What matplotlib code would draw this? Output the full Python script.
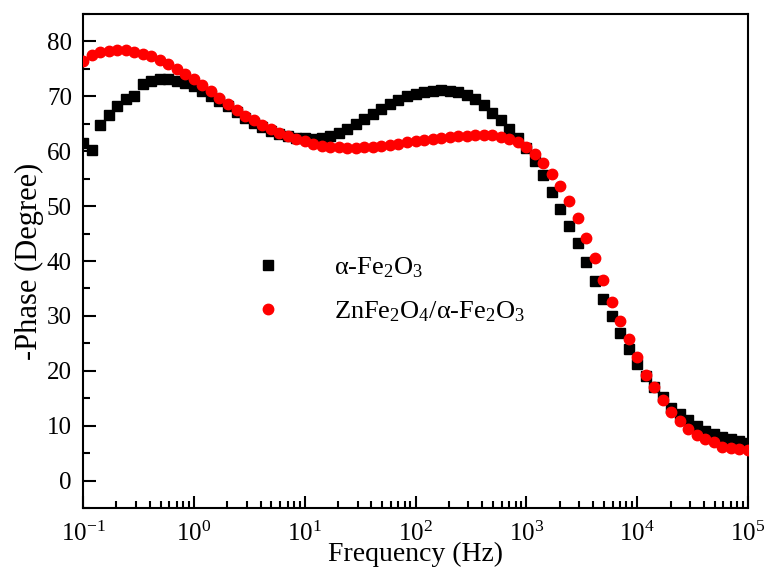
import numpy as np
import matplotlib
matplotlib.use("Agg")
from matplotlib import pyplot as plt
from matplotlib.ticker import LogLocator, MultipleLocator, NullFormatter

plt.rcParams['font.family'] = ['Liberation Serif', 'DejaVu Serif']
plt.rcParams['mathtext.fontset'] = 'custom'
plt.rcParams['mathtext.rm'] = 'Liberation Serif'
plt.rcParams['mathtext.it'] = 'Liberation Serif:italic'

# barrido de frecuencia: 13 puntos por decada, de 0.1 Hz a 100 kHz
freq = np.logspace(-1, 5, 79)

# -Phase (grados)
fase_fe2o3 = [61.5, 60.3, 64.7, 66.6, 68.3, 69.6, 70.1, 72.3, 72.8, 73.1,
              73.1, 72.8, 72.4, 71.8, 70.9, 70.0, 69.1, 68.2, 67.2, 66.1,
              65.2, 64.4, 63.7, 63.2, 62.8, 62.5, 62.4, 62.3, 62.4, 62.8,
              63.4, 64.1, 65.0, 65.9, 66.8, 67.7, 68.6, 69.4, 70.0, 70.5,
              70.8, 71.0, 71.1, 71.0, 70.7, 70.2, 69.5, 68.4, 67.0, 65.6,
              64.0, 62.5, 60.6, 58.3, 55.7, 52.5, 49.5, 46.4, 43.2, 39.8,
              36.3, 33.0, 29.9, 26.9, 24.0, 21.3, 19.0, 17.1, 15.2, 13.3,
              12.1, 11.0, 10.0, 9.1, 8.5, 8.0, 7.6, 7.2, 6.9]

fase_znfe = [76.5, 77.6, 78.0, 78.2, 78.4, 78.4, 78.1, 77.8, 77.3, 76.6,
             75.8, 75.0, 74.1, 73.1, 72.0, 70.9, 69.7, 68.6, 67.5, 66.5,
             65.6, 64.8, 64.0, 63.3, 62.7, 62.2, 61.8, 61.4, 61.0, 60.8,
             60.7, 60.6, 60.6, 60.7, 60.8, 61.0, 61.2, 61.4, 61.6, 61.9,
             62.1, 62.3, 62.5, 62.6, 62.7, 62.8, 62.9, 62.9, 62.9, 62.6,
             62.2, 61.6, 60.8, 59.5, 57.8, 55.8, 53.6, 50.9, 47.8, 44.2,
             40.5, 36.6, 32.6, 29.0, 25.8, 22.6, 19.3, 17.0, 14.7, 12.5,
             10.9, 9.4, 8.3, 7.6, 7.0, 6.2, 6.0, 5.7, 5.5]

fig = plt.figure(figsize=(7.69, 5.76), dpi=100)
ax = fig.add_axes([0.108, 0.118, 0.8647, 0.8577])

ax.plot(freq, fase_fe2o3, 's', color='black', markersize=6.5,
        label=r'α-Fe$_2$O$_3$', zorder=2)
ax.plot(freq, fase_znfe, 'o', color='#ff0000', markersize=7.5,
        label=r'ZnFe$_2$O$_4$/α-Fe$_2$O$_3$', zorder=3)

ax.set_xscale('log')
ax.set_xlim(0.1, 1e5)
ax.set_ylim(-5, 85)

ax.xaxis.set_major_locator(LogLocator(base=10, numticks=10))
ax.xaxis.set_minor_locator(LogLocator(base=10, subs=np.arange(2, 10), numticks=20))
ax.xaxis.set_minor_formatter(NullFormatter())
ax.yaxis.set_major_locator(MultipleLocator(10))
ax.yaxis.set_minor_locator(MultipleLocator(5))

ax.tick_params(which='both', direction='in', top=False, right=False,
               width=1.5, labelsize=18)
ax.tick_params(which='major', length=9)
ax.tick_params(axis='x', which='major', pad=10)
ax.tick_params(axis='y', which='major', pad=8)
ax.tick_params(which='minor', length=5)
for s in ax.spines.values():
    s.set_linewidth(1.5)

ax.set_xlabel('Frequency (Hz)', fontsize=20, labelpad=-3)
ax.set_ylabel('-Phase (Degree)', fontsize=22, labelpad=2)

ax.legend(loc='center left', bbox_to_anchor=(0.203, 0.442), frameon=False,
          fontsize=19, handletextpad=1.5, labelspacing=0.75)

plt.savefig('out.png', dpi=100)
